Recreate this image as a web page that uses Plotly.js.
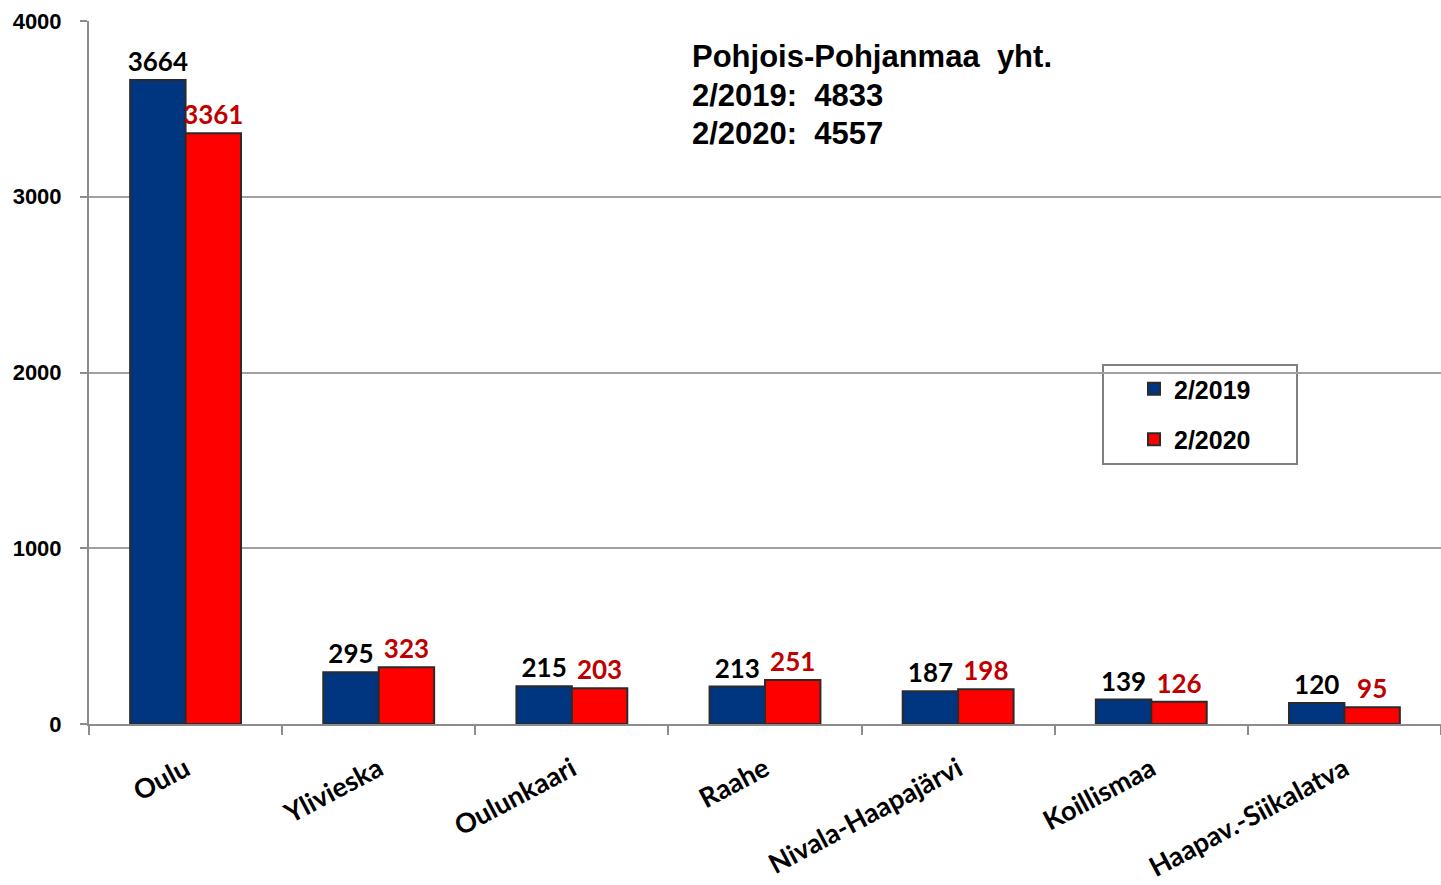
<!DOCTYPE html>
<html>
<head>
<meta charset="utf-8">
<script src="https://cdn.plot.ly/plotly-3.0.1.min.js"></script>
<style>html,body{margin:0;padding:0;background:#fff;}#chart{width:1441px;height:885px;}</style>
</head>
<body>
<div id="chart"></div>
<script>
const categories = ["Oulu", "Ylivieska", "Oulunkaari", "Raahe", "Nivala-Haapajärvi", "Koillismaa", "Haapav.-Siikalatva"];
const values2019 = [3664, 295, 215, 213, 187, 139, 120];
const values2020 = [3361, 323, 203, 251, 198, 126, 95];
const seriesNames = ["2/2019", "2/2020"];
const summaryLines = ["Pohjois-Pohjanmaa&nbsp;&nbsp;yht.", "2/2019:&nbsp;&nbsp;4833", "2/2020:&nbsp;&nbsp;4557"];
const yTicks = [0, 1000, 2000, 3000, 4000];

const labelFont = {family: "Lato, 'Open Sans', sans-serif", size: 26, weight: 700};

const traces = [
  {
    type: "bar", name: seriesNames[0], x: categories, y: values2019, legendgroup: "a",
    marker: {color: "#003580", line: {color: "#2b2b2b", width: 2}},
    text: values2019.map(String), textposition: "outside", cliponaxis: false, constraintext: "none",
    textfont: Object.assign({color: "#000000"}, labelFont)
  },
  {
    type: "bar", name: seriesNames[1], x: categories, y: values2020, legendgroup: "b",
    marker: {color: "#ff0000", line: {color: "#2b2b2b", width: 2}},
    text: values2020.map(String), textposition: "outside", cliponaxis: false, constraintext: "none",
    textfont: Object.assign({color: "#c00000"}, labelFont)
  }
];

const px = v => (v - 89) / 1352;
const py = v => (724 - v) / 703;
const annY = [57, 95, 133];
const layout = {
  width: 1441, height: 885,
  margin: {l: 89, r: 0, t: 21, b: 161},
  paper_bgcolor: "#ffffff", plot_bgcolor: "#ffffff",
  barmode: "group", bargap: 0.426, bargroupgap: 0,
  showlegend: true,
  legend: {
    x: px(1134), y: py(366), xanchor: "left", yanchor: "top",
    borderwidth: 0, bgcolor: "rgba(0,0,0,0)",
    font: {family: "Arial, 'Liberation Sans', sans-serif", size: 25, weight: 700, color: "#000"},
    itemwidth: 30, tracegroupgap: 15
  },
  shapes: [{
    type: "rect", xref: "paper", yref: "paper",
    x0: px(1103), x1: px(1297), y0: py(464), y1: py(365),
    line: {color: "#808080", width: 2}, fillcolor: "#ffffff", layer: "below"
  }],
  xaxis: {
    type: "category",
    tickangle: -28,
    tickson: "boundaries",
    ticks: "outside", ticklen: 9, tickwidth: 2, tickcolor: "#8c8c8c",
    showline: true, linecolor: "#8c8c8c", linewidth: 2,
    tickfont: {family: "Lato, 'Open Sans', sans-serif", size: 27, weight: 700, color: "#000"},
    ticklabelstandoff: 17,
    showgrid: false
  },
  yaxis: {
    range: [0, 4000], tickvals: yTicks, ticktext: yTicks.map(String),
    ticks: "outside", ticklen: 7, tickwidth: 2, tickcolor: "#8c8c8c",
    showline: true, linecolor: "#8c8c8c", linewidth: 2,
    showgrid: true, gridcolor: "#a0a0a0", gridwidth: 2,
    zeroline: false,
    tickfont: {family: "Arial, 'Liberation Sans', sans-serif", size: 22, weight: 700, color: "#000"},
    ticklabelstandoff: 14
  },
  annotations: summaryLines.map((t, i) => ({
    xref: "paper", yref: "paper",
    x: px(690), y: py(annY[i]),
    xanchor: "left", yanchor: "middle", showarrow: false,
    text: t,
    font: {family: "Arial, 'Liberation Sans', sans-serif", size: 31, weight: 700, color: "#000"}
  }))
};

Plotly.newPlot("chart", traces, layout, {displayModeBar: false, responsive: false});
</script>
</body>
</html>
